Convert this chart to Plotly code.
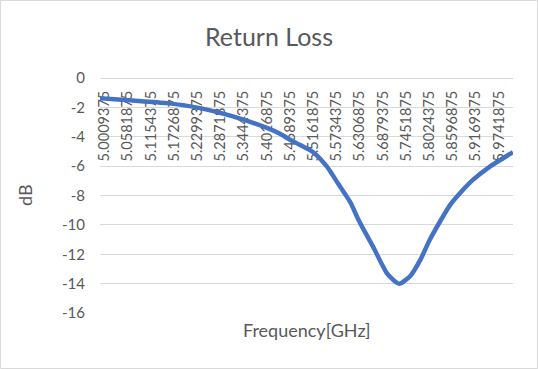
import plotly.graph_objects as go

# Data
freq_ghz = [4.990, 5.071, 5.155, 5.237, 5.318, 5.402, 5.434, 5.459, 5.483, 5.516,
            5.550, 5.577, 5.597, 5.609, 5.624, 5.646, 5.664, 5.698, 5.723, 5.730,
            5.755, 5.780, 5.804, 5.829, 5.854, 5.878, 5.910, 5.952, 6.009]
return_loss_db = [-1.37, -1.53, -1.71, -2.05, -2.61, -3.40, -3.80, -4.20, -4.55, -5.05,
                  -6.04, -7.17, -8.00, -8.53, -9.44, -10.6, -11.5, -13.3, -13.95, -14.0,
                  -13.5, -12.4, -11.0, -9.77, -8.64, -7.85, -6.94, -6.03, -5.05]

tick_freqs = [5.0009375, 5.0581875, 5.1154375, 5.1726875, 5.2299375, 5.2871875,
              5.3444375, 5.4016875, 5.4589375, 5.5161875, 5.5734375, 5.6306875,
              5.6879375, 5.7451875, 5.8024375, 5.8596875, 5.9169375, 5.9741875]
tick_labels = [f"{v:.7f}" for v in tick_freqs]
y_ticks = [0, -2, -4, -6, -8, -10, -12, -14, -16]
y_tick_labels = [str(v) for v in y_ticks]

W, H = 538, 369
L, R, T, B = 100, 25, 78, 56
PW, PH = W - L - R, H - T - B

def px(x):
    return (x - L) / PW

def py(y):
    return (H - B - y) / PH

FONT = "Lato"
GRAY = "#595959"
GRID = "#d9d9d9"

fig = go.Figure()
fig.add_trace(go.Scatter(
    x=freq_ghz, y=return_loss_db, mode="lines",
    line=dict(color="#4472C4", width=4.5, shape="spline", smoothing=0.6),
    showlegend=False, hoverinfo="skip",
))

fig.update_layout(
    width=W, height=H,
    margin=dict(l=L, r=R, t=T, b=B),
    paper_bgcolor="white", plot_bgcolor="white",
    font=dict(family=FONT, color=GRAY),
    title=dict(text="Return Loss", font=dict(size=25, color=GRAY, family=FONT),
               x=0.5, xref="container", xanchor="center",
               y=1 - 37 / H, yref="container", yanchor="middle"),
    xaxis=dict(
        range=[freq_ghz[0], freq_ghz[-1]],
        tickmode="array", tickvals=tick_freqs, ticktext=tick_labels,
        tickangle=-90, tickfont=dict(size=14.5, color=GRAY, family=FONT),
        anchor="free", position=1, side="bottom",
        showgrid=False, zeroline=False,
        showline=True, linecolor=GRID, linewidth=1,
        ticks="", ticklabelstandoff=6,
        layer="below traces",
    ),
    yaxis=dict(
        range=[-16, 0], tickmode="array", tickvals=y_ticks, ticktext=y_tick_labels,
        tickfont=dict(size=15, color=GRAY, family=FONT),
        showgrid=True, gridcolor=GRID, gridwidth=1.3,
        zeroline=False, showline=False, ticks="", ticklabelstandoff=14,
    ),
    annotations=[
        dict(text="Frequency[GHz]", x=px(306.5), y=py(330), xref="paper", yref="paper",
             showarrow=False, xanchor="center", yanchor="middle",
             font=dict(size=18, color=GRAY, family=FONT)),
        dict(text="dB", x=px(25), y=py(195), xref="paper", yref="paper",
             showarrow=False, xanchor="center", yanchor="middle", textangle=-90,
             font=dict(size=18, color=GRAY, family=FONT)),
    ],
    shapes=[
        dict(type="rect", xref="paper", yref="paper",
             x0=px(0.5), x1=px(W - 0.5), y0=py(H - 0.5), y1=py(0.5),
             line=dict(color=GRID, width=1), layer="below"),
    ],
)

fig.write_html("out.html")
